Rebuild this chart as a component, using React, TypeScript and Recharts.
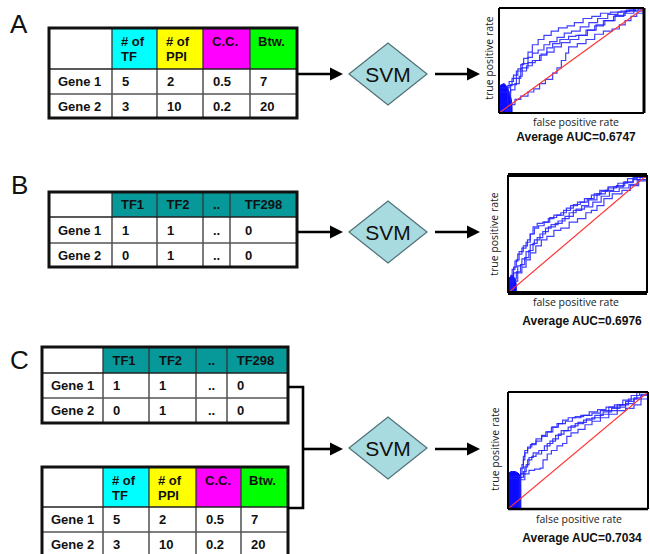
import React from 'react';
import { ComposedChart, Line, Area, XAxis, YAxis, ReferenceLine } from 'recharts';

// ---------------- data ----------------
const featureHeaders = ['', '# of\nTF', '# of\nPPI', 'C.C.', 'Btw.'];
const tfHeaders = ['', 'TF1', 'TF2', '..', 'TF298'];
const geneNames = ['Gene 1', 'Gene 2'];
const featureValues = [['5', '2', '0.5', '7'], ['3', '10', '0.2', '20']];
const tfValues = [['1', '1', '..', '0'], ['0', '1', '..', '0']];
const featureFills = ['#ffffff', '#00ffff', '#ffff00', '#ff00ff', '#00ff00'];
const tfFills = ['#ffffff', '#079999', '#079999', '#079999', '#079999'];
const classifierLabel = 'SVM';
const axisTicks = [0.2, 0.4, 0.6, 0.8];
const xAxisTitle = 'false positive rate';
const yAxisTitle = 'true positive rate';
const aucA = 'Average AUC=0.6747';
const aucB = 'Average AUC=0.6976';
const aucC = 'Average AUC=0.7034';

type P = [number, number];
// Panel A ROC folds (fpr, tpr)
const rocA1: P[] = [[0.06,0.26],[0.09,0.33],[0.12,0.4],[0.15,0.46],[0.17,0.52],[0.2,0.58],[0.23,0.65],[0.27,0.7],[0.31,0.74],[0.36,0.78],[0.41,0.81],[0.47,0.83],[0.52,0.86],[0.58,0.9],[0.64,0.92],[0.7,0.95],[0.77,0.96],[0.84,0.97],[0.9,0.98],[0.96,0.99],[1,1]];
const rocA2: P[] = [[0.07,0.24],[0.1,0.3],[0.13,0.36],[0.16,0.42],[0.2,0.47],[0.23,0.53],[0.27,0.57],[0.31,0.6],[0.35,0.65],[0.4,0.68],[0.45,0.72],[0.5,0.76],[0.56,0.78],[0.62,0.82],[0.68,0.86],[0.75,0.9],[0.82,0.94],[0.88,0.96],[0.94,0.98],[1,1]];
const rocA3: P[] = [[0.08,0.22],[0.11,0.28],[0.14,0.35],[0.16,0.43],[0.2,0.48],[0.25,0.5],[0.29,0.56],[0.33,0.62],[0.37,0.66],[0.42,0.7],[0.48,0.73],[0.53,0.74],[0.6,0.79],[0.66,0.83],[0.72,0.88],[0.79,0.92],[0.86,0.95],[0.93,0.97],[1,1]];
const rocA4: P[] = [[0.08,0.2],[0.12,0.27],[0.15,0.33],[0.19,0.4],[0.23,0.45],[0.28,0.5],[0.33,0.55],[0.38,0.58],[0.43,0.63],[0.49,0.67],[0.55,0.7],[0.61,0.74],[0.67,0.79],[0.73,0.84],[0.8,0.88],[0.87,0.93],[0.93,0.97],[1,1]];
const rocA5: P[] = [[0.05,0.03],[0.08,0.08],[0.11,0.13],[0.15,0.16],[0.2,0.2],[0.24,0.23],[0.28,0.28],[0.32,0.32],[0.37,0.38],[0.4,0.43],[0.43,0.5],[0.46,0.57],[0.48,0.63],[0.54,0.66],[0.6,0.7],[0.66,0.75],[0.72,0.78],[0.78,0.8],[0.83,0.84],[0.87,0.88],[0.91,0.92],[0.95,0.95],[1,1]];
const blobA: P[] = [[0,0.25],[0.015,0.27],[0.035,0.28],[0.05,0.26],[0.065,0.22],[0.075,0.17],[0.085,0.13],[0.09,0.06],[0.09,0]];

// Panel B ROC folds
const rocB1: P[] = [[0.02,0.15],[0.04,0.22],[0.06,0.28],[0.08,0.35],[0.11,0.4],[0.14,0.45],[0.16,0.5],[0.18,0.56],[0.21,0.59],[0.25,0.6],[0.29,0.63],[0.33,0.66],[0.38,0.68],[0.42,0.72],[0.47,0.75],[0.52,0.77],[0.57,0.8],[0.62,0.84],[0.67,0.86],[0.72,0.89],[0.78,0.91],[0.84,0.94],[0.9,0.96],[0.95,0.98],[1,1]];
const rocB2: P[] = [[0.03,0.13],[0.05,0.2],[0.07,0.27],[0.1,0.33],[0.13,0.38],[0.16,0.43],[0.19,0.5],[0.22,0.55],[0.26,0.57],[0.3,0.6],[0.35,0.64],[0.4,0.66],[0.45,0.7],[0.5,0.74],[0.55,0.77],[0.6,0.8],[0.66,0.83],[0.72,0.87],[0.79,0.9],[0.86,0.93],[0.93,0.97],[1,1]];
const rocB3: P[] = [[0.03,0.12],[0.06,0.18],[0.09,0.24],[0.12,0.3],[0.15,0.36],[0.18,0.42],[0.21,0.47],[0.25,0.52],[0.29,0.56],[0.34,0.59],[0.39,0.63],[0.44,0.68],[0.49,0.71],[0.55,0.73],[0.61,0.77],[0.67,0.82],[0.73,0.86],[0.8,0.89],[0.87,0.92],[0.93,0.96],[1,1]];
const rocB4: P[] = [[0.04,0.1],[0.07,0.17],[0.1,0.23],[0.13,0.29],[0.16,0.35],[0.19,0.41],[0.23,0.45],[0.27,0.5],[0.31,0.55],[0.36,0.58],[0.41,0.61],[0.47,0.65],[0.53,0.7],[0.58,0.74],[0.64,0.79],[0.7,0.84],[0.76,0.87],[0.83,0.9],[0.9,0.94],[0.96,0.98],[1,1]];
const rocB5: P[] = [[0.04,0.1],[0.07,0.17],[0.1,0.22],[0.13,0.28],[0.16,0.34],[0.2,0.4],[0.24,0.45],[0.28,0.48],[0.33,0.53],[0.38,0.55],[0.44,0.6],[0.5,0.63],[0.56,0.68],[0.6,0.7],[0.64,0.74],[0.69,0.8],[0.75,0.84],[0.82,0.87],[0.88,0.91],[0.94,0.95],[1,1]];
const blobB: P[] = [[0,0.12],[0.02,0.14],[0.04,0.14],[0.055,0.11],[0.06,0.06],[0.06,0]];

// Panel C ROC folds
const rocC1: P[] = [[0.09,0.3],[0.1,0.38],[0.11,0.45],[0.12,0.5],[0.14,0.53],[0.17,0.56],[0.2,0.6],[0.24,0.63],[0.27,0.66],[0.31,0.7],[0.35,0.73],[0.39,0.76],[0.43,0.78],[0.48,0.79],[0.54,0.8],[0.6,0.82],[0.66,0.84],[0.72,0.87],[0.78,0.89],[0.84,0.92],[0.9,0.95],[0.95,0.98],[1,1]];
const rocC2: P[] = [[0.09,0.28],[0.11,0.35],[0.12,0.42],[0.14,0.48],[0.16,0.52],[0.2,0.55],[0.24,0.58],[0.28,0.62],[0.32,0.66],[0.36,0.7],[0.41,0.73],[0.46,0.75],[0.52,0.78],[0.58,0.8],[0.64,0.83],[0.7,0.85],[0.76,0.87],[0.82,0.89],[0.88,0.93],[0.94,0.97],[1,1]];
const rocC3: P[] = [[0.09,0.27],[0.11,0.32],[0.13,0.38],[0.15,0.44],[0.18,0.48],[0.22,0.5],[0.26,0.54],[0.3,0.58],[0.34,0.63],[0.38,0.67],[0.43,0.7],[0.48,0.73],[0.54,0.76],[0.6,0.78],[0.66,0.81],[0.72,0.84],[0.78,0.87],[0.84,0.9],[0.9,0.94],[0.95,0.97],[1,1]];
const rocC4: P[] = [[0.09,0.26],[0.12,0.3],[0.14,0.36],[0.17,0.42],[0.2,0.45],[0.24,0.47],[0.28,0.5],[0.32,0.56],[0.36,0.6],[0.4,0.64],[0.45,0.67],[0.5,0.71],[0.56,0.74],[0.62,0.77],[0.68,0.8],[0.74,0.83],[0.8,0.86],[0.86,0.89],[0.92,0.94],[1,1]];
const rocC5: P[] = [[0.08,0.25],[0.12,0.3],[0.15,0.33],[0.19,0.34],[0.23,0.35],[0.25,0.42],[0.28,0.47],[0.31,0.5],[0.35,0.54],[0.39,0.56],[0.42,0.62],[0.45,0.65],[0.5,0.68],[0.55,0.72],[0.6,0.75],[0.66,0.78],[0.72,0.81],[0.78,0.84],[0.84,0.86],[0.9,0.89],[0.95,0.94],[1,1]];
const blobC: P[] = [[0,0.3],[0.02,0.32],[0.05,0.32],[0.07,0.31],[0.085,0.29],[0.09,0.2],[0.09,0.1],[0.09,0]];

const chance: P[] = [[0, 0], [1, 1]];

// ---------------- helpers ----------------
const toRows = (pts: P[]) => pts.map(([x, y]) => ({ x, y }));
const TABLE_FONT = '"Liberation Sans", Arial, sans-serif';
const LABEL_FONT = '"Open Sans", "Liberation Sans", sans-serif';
const BOLD_FONT = '"Liberation Sans", Arial, sans-serif';

type TableProps = {
  cols: number[];
  rows: number[];
  headers: string[];
  fills: string[];
  values: string[][];
  headerMode: ('start' | 'middle')[];
  headerShift: number[];
  dataMode: ('start' | 'middle')[];
  dataPad: number[];
};

function Table({ cols, rows, headers, fills, values, headerMode, headerShift, dataMode, dataPad }: TableProps) {
  const x0 = cols[0];
  const x1 = cols[cols.length - 1];
  const y0 = rows[0];
  const y1 = rows[rows.length - 1];
  const hTop = rows[0];
  const hBot = rows[1];
  const tall = hBot - hTop > 30;
  const body = geneNames.map((g, i) => [g, ...values[i]]);
  return (
    <g fontFamily={TABLE_FONT} fontWeight="bold" fontSize={13} fill="#111">
      {headers.map((_, c) => (
        <rect key={'f' + c} x={cols[c]} y={hTop} width={cols[c + 1] - cols[c]} height={hBot - hTop} fill={fills[c]} />
      ))}
      {headers.map((h, c) => {
        const lines = h.split('\n');
        const mode = headerMode[c];
        const x = mode === 'middle' ? (cols[c] + cols[c + 1]) / 2 + headerShift[c] : cols[c] + headerShift[c];
        return lines.map((ln, li) => {
          const y = tall ? hTop + 17.5 + li * 15 : (hTop + hBot) / 2 + 4.8;
          return (
            <text key={'h' + c + '-' + li} x={x} y={y} textAnchor={mode} fill="#111">
              {ln}
            </text>
          );
        });
      })}
      {body.map((r, ri) =>
        r.map((v, c) => {
          const top = rows[ri + 1];
          const bot = rows[ri + 2];
          const mode = dataMode[c];
          const x = mode === 'middle' ? (cols[c] + cols[c + 1]) / 2 : cols[c] + dataPad[c];
          return (
            <text key={'d' + ri + '-' + c} x={x} y={(top + bot) / 2 + 4.8} textAnchor={mode} fill="#111">
              {v}
            </text>
          );
        })
      )}
      {cols.slice(1, -1).map((cx, i) => (
        <line key={'vc' + i} x1={cx} x2={cx} y1={y0} y2={y1} stroke="#333" strokeWidth={1.3} />
      ))}
      {rows.slice(1, -1).map((ry, i) => (
        <line key={'hr' + i} x1={x0} x2={x1} y1={ry} y2={ry} stroke={i === 0 ? '#222' : '#555'} strokeWidth={1.3} />
      ))}
      <rect x={x0} y={y0} width={x1 - x0} height={y1 - y0} fill="none" stroke="#111" strokeWidth={3} />
    </g>
  );
}

function Diamond({ cx, cy }: { cx: number; cy: number }) {
  const hw = 39;
  const hh = 31;
  return (
    <g>
      <polygon
        points={`${cx - hw},${cy} ${cx},${cy - hh} ${cx + hw},${cy} ${cx},${cy + hh}`}
        fill="#a8dbe0"
        stroke="#4f6f74"
        strokeWidth={1.2}
      />
      <text x={cx} y={cy + 7.5} textAnchor="middle" fontFamily={TABLE_FONT} fontSize={21} fill="#111">
        {classifierLabel}
      </text>
    </g>
  );
}

function Arrow({ x1, x2, y }: { x1: number; x2: number; y: number }) {
  return (
    <g>
      <line x1={x1} x2={x2 - 10} y1={y} y2={y} stroke="#000" strokeWidth={2.6} />
      <polygon points={`${x2 - 13},${y - 6.5} ${x2},${y} ${x2 - 13},${y + 6.5}`} fill="#000" />
    </g>
  );
}

type RocProps = {
  left: number;
  top: number;
  width: number;
  height: number;
  margin: { top: number; right: number; bottom: number; left: number };
  folds: P[][];
  blob: P[];
  borders: { left: number; right: number; top: number; bottom: number };
};

const foldTypes: ('stepAfter' | 'stepBefore')[] = ['stepAfter', 'stepBefore', 'stepAfter', 'stepBefore', 'stepAfter'];

function Roc({ left, top, width, height, margin, folds, blob, borders }: RocProps) {
  return (
    <div style={{ position: 'absolute', left, top, width, height }}>
      <ComposedChart width={width} height={height} margin={margin}>
        <XAxis
          type="number"
          dataKey="x"
          domain={[0, 1]}
          ticks={axisTicks}
          allowDataOverflow
          mirror
          tick={false}
          tickSize={3}
          axisLine={false}
          tickLine={{ stroke: '#000', strokeWidth: 1 }}
        />
        <YAxis
          type="number"
          dataKey="y"
          domain={[0, 1]}
          ticks={axisTicks}
          allowDataOverflow
          orientation="right"
          mirror
          tick={false}
          tickSize={3}
          axisLine={false}
          tickLine={{ stroke: '#000', strokeWidth: 1 }}
        />
        <Area
          data={toRows(blob)}
          dataKey="y"
          type="linear"
          stroke="#1010ff"
          strokeWidth={1}
          fill="#0a0aff"
          fillOpacity={1}
          isAnimationActive={false}
          dot={false}
          activeDot={false}
        />
        {folds.map((f, i) => (
          <Line
            key={i}
            data={toRows([[0, 0], ...f])}
            dataKey="y"
            type={foldTypes[i]}
            stroke="#1f1fff"
            strokeOpacity={0.85}
            strokeWidth={1.2}
            dot={false}
            activeDot={false}
            isAnimationActive={false}
          />
        ))}
        <Line
          data={toRows(chance)}
          dataKey="y"
          type="linear"
          stroke="#ff3333"
          strokeWidth={1.2}
          dot={false}
          activeDot={false}
          isAnimationActive={false}
        />
        <ReferenceLine x={0} stroke="#000" strokeWidth={borders.left} />
        <ReferenceLine x={1} stroke="#000" strokeWidth={borders.right} />
        <ReferenceLine y={0} stroke="#000" strokeWidth={borders.bottom} />
        <ReferenceLine y={1} stroke="#000" strokeWidth={borders.top} />
      </ComposedChart>
    </div>
  );
}

function RocLabels({ ylx, yly, xlx, xly, aucx, aucy, auc }: { ylx: number; yly: number; xlx: number; xly: number; aucx: number; aucy: number; auc: string }) {
  return (
    <g fill="#1a1a1a">
      <text x={ylx} y={yly} textAnchor="middle" fontFamily={LABEL_FONT} fontSize={10.5} transform={`rotate(-90 ${ylx} ${yly})`} dominantBaseline="central">
        {yAxisTitle}
      </text>
      <text x={xlx} y={xly} textAnchor="middle" fontFamily={LABEL_FONT} fontSize={10.5}>
        {xAxisTitle}
      </text>
      <text x={aucx} y={aucy} textAnchor="middle" fontFamily={BOLD_FONT} fontSize={12} fontWeight="bold" fill="#111">
        {auc}
      </text>
    </g>
  );
}

export default function App() {
  return (
    <div
      style={{
        position: 'absolute',
        left: 0,
        top: 0,
        width: 650,
        height: 554,
        background: '#fff',
        overflow: 'hidden',
      }}
    >
      <svg width={650} height={554} style={{ position: 'absolute', left: 0, top: 0 }}>
        {/* panel letters */}
        <g fontFamily={TABLE_FONT} fontSize={26} fill="#111">
          <text x={10} y={33}>A</text>
          <text x={11} y={194}>B</text>
          <text x={10} y={369}>C</text>
        </g>

        {/* Panel A */}
        <Table
          cols={[49, 112, 157, 203, 250, 297]}
          rows={[28, 69, 94, 118]}
          headers={featureHeaders}
          fills={featureFills}
          values={featureValues}
          headerMode={['start', 'start', 'start', 'start', 'start']}
          headerShift={[9, 9, 9, 9, 8]}
          dataMode={['start', 'start', 'start', 'start', 'start']}
          dataPad={[9, 10, 10, 10, 10]}
        />
        <Arrow x1={297} x2={343} y={74} />
        <Diamond cx={388} cy={74} />
        <Arrow x1={435} x2={480} y={74} />
        <RocLabels ylx={489} yly={58} xlx={576} xly={126} aucx={576} aucy={141} auc={aucA} />

        {/* Panel B */}
        <Table
          cols={[49, 112, 157, 203, 230, 297]}
          rows={[192, 217, 243, 267]}
          headers={tfHeaders}
          fills={tfFills}
          values={tfValues}
          headerMode={['start', 'middle', 'middle', 'middle', 'middle']}
          headerShift={[9, -2, -2, 0, 0]}
          dataMode={['start', 'start', 'start', 'middle', 'start']}
          dataPad={[9, 10, 10, 0, 15]}
        />
        <Arrow x1={297} x2={343} y={232} />
        <Diamond cx={388} cy={232} />
        <Arrow x1={435} x2={480} y={232} />
        <RocLabels ylx={494} yly={234} xlx={576} xly={306} aucx={582} aucy={325} auc={aucB} />

        {/* Panel C */}
        <Table
          cols={[42, 103, 149, 196, 227, 288]}
          rows={[347, 373, 398, 423]}
          headers={tfHeaders}
          fills={tfFills}
          values={tfValues}
          headerMode={['start', 'middle', 'middle', 'middle', 'middle']}
          headerShift={[9, -2, -2, 0, -2]}
          dataMode={['start', 'start', 'start', 'middle', 'start']}
          dataPad={[9, 10, 10, 0, 10]}
        />
        <Table
          cols={[42, 103, 149, 196, 241, 288]}
          rows={[467, 507, 532, 557]}
          headers={featureHeaders}
          fills={featureFills}
          values={featureValues}
          headerMode={['start', 'start', 'start', 'start', 'start']}
          headerShift={[9, 9, 9, 9, 8]}
          dataMode={['start', 'start', 'start', 'start', 'start']}
          dataPad={[9, 10, 10, 10, 10]}
        />
        <polyline points="288,387 303,387 303,508 288,508" fill="none" stroke="#000" strokeWidth={2.6} />
        <Arrow x1={303} x2={343} y={449} />
        <Diamond cx={388} cy={448} />
        <Arrow x1={435} x2={480} y={449} />
        <RocLabels ylx={495} yly={449} xlx={579} xly={523} aucx={582} aucy={542} auc={aucC} />
      </svg>

      <Roc
        left={480}
        top={0}
        width={170}
        height={120}
        margin={{ top: 8, right: 6, bottom: 7, left: 19 }}
        folds={[rocA1, rocA2, rocA3, rocA4, rocA5]}
        blob={blobA}
        borders={{ left: 2, right: 3, top: 2, bottom: 2 }}
      />
      <Roc
        left={480}
        top={165}
        width={170}
        height={135}
        margin={{ top: 10, right: 3, bottom: 7, left: 28 }}
        folds={[rocB1, rocB2, rocB3, rocB4, rocB5]}
        blob={blobB}
        borders={{ left: 2, right: 2, top: 4, bottom: 4 }}
      />
      <Roc
        left={480}
        top={382}
        width={170}
        height={135}
        margin={{ top: 10, right: 2, bottom: 8, left: 28 }}
        folds={[rocC1, rocC2, rocC3, rocC4, rocC5]}
        blob={blobC}
        borders={{ left: 2, right: 2, top: 2, bottom: 2.5 }}
      />
    </div>
  );
}
